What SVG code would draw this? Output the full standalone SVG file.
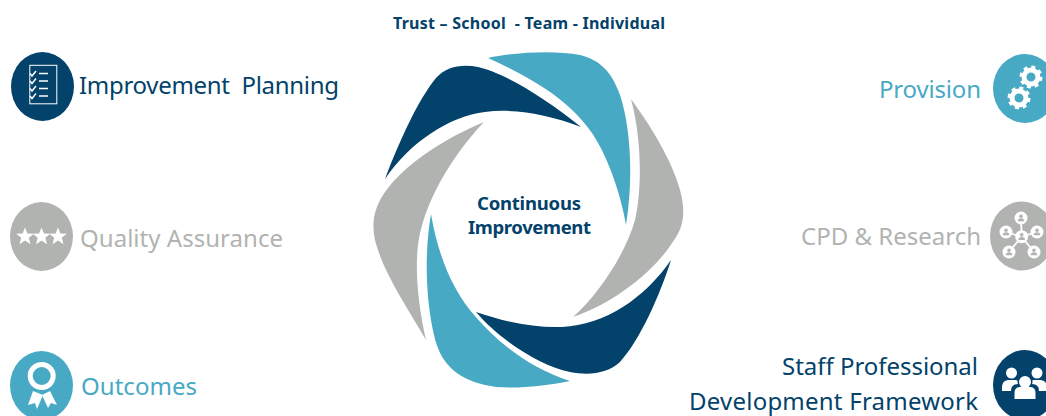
<svg xmlns="http://www.w3.org/2000/svg" width="1046" height="416" viewBox="0 0 1046 416">
<style>
text{font-family:"Noto Sans","Open Sans","Liberation Sans",sans-serif}
.l{font-size:24px}.t{font-weight:700;fill:#03426a}
.dark{fill:#03426a}.blue{fill:#48a9c5}.gray{fill:#b1b3b1}
.w{fill:#fff}.ws{fill:none;stroke:#fff}
</style>
<defs>
<polygon id="star" points="0,-9 2.400,-2.900 8.800,-2.700 3.800,1.300 5.500,7.700 0,4.100 -5.500,7.700 -3.800,1.300 -8.800,-2.700 -2.400,-2.900"/>
<path id="chk" d="M-6,0l2,2.500l4,-5M3,0h9" fill="none" stroke="#fff" stroke-width="1.500"/>
<g id="gear"><circle r="7" fill="none" stroke="#fff" stroke-width="5"/><circle r="9.800" fill="none" stroke="#fff" stroke-width="3.400" stroke-dasharray="3.850 3.850"/></g>
<g id="p"><circle r="6.500" fill="#fff"/><circle cy="-1.800" r="1.800" fill="#b1b3b1"/><path d="M-3.300,3.300q0,-3 3.300,-3q3.300,0 3.300,3z" fill="#b1b3b1"/></g>
</defs>
<text id="title" class="t" x="393" y="29" font-size="16" textLength="272" xml:space="preserve">Trust – School  - Team - Individual</text>
<g id="cycle">
<path class="blue" d="M488,58C515,52 555,50 580,55C600,60 612,72 620,95C630,125 634,175 626,225C622,200 610,160 592,133C570,102 540,82 488,58Z"/>
<path class="dark" d="M581,127C550,115 515,108 485,112C450,116 410,142 385,179C400,140 418,100 436,78C447,66 462,64 478,67C505,73 545,98 581,127Z"/>
<path class="gray" d="M631,99C650,125 672,160 680,190C686,212 684,228 672,243C655,270 615,303 573,317C598,295 625,255 635,220C642,190 642,140 631,99Z"/>
<path class="dark" d="M671,260C660,295 640,340 620,362C608,373 590,376 570,372C540,366 500,340 476,312C505,322 535,328 562,327C605,325 645,298 671,260Z"/>
<path class="blue" d="M431,214C438,255 452,290 475,316C498,343 530,368 570,381C540,387 505,390 485,385C455,378 440,362 434,335C426,300 424,255 431,214Z"/>
<path class="gray" d="M484,122C450,136 410,160 388,188C372,208 370,228 378,250C387,278 410,312 426,340C418,305 415,270 418,245C423,205 450,158 484,122Z"/>
</g>
<g id="center">
<text class="t" x="477" y="210" font-size="18.500" textLength="104">Continuous</text>
<text class="t" x="468" y="234" font-size="18.500" textLength="123">Improvement</text>
</g>
<g id="planning">
<ellipse class="dark" cx="42.500" cy="86.500" rx="31.500" ry="34.500"/>
<rect class="ws" x="29.800" y="65.300" width="27" height="38.500" stroke-width="1"/>
<use href="#chk" x="36" y="73.500"/><use href="#chk" x="36" y="81"/><use href="#chk" x="36" y="88.500"/><use href="#chk" x="36" y="96"/>
<text class="l" x="79" y="94" fill="#03426a" textLength="260" xml:space="preserve">Improvement  Planning</text>
</g>
<g id="quality">
<ellipse class="gray" cx="41.500" cy="236.500" rx="31.500" ry="34.500"/>
<use href="#star" class="w" x="25" y="236.500"/><use href="#star" class="w" x="41.500" y="236.500"/><use href="#star" class="w" x="58" y="236.500"/>
<text class="l" x="80" y="247" fill="#b1b3b1" textLength="203">Quality Assurance</text>
</g>
<g id="outcomes">
<ellipse class="blue" cx="41.500" cy="385.500" rx="31.500" ry="34.500"/>
<circle class="ws" cx="41.700" cy="376" r="11.500" stroke-width="5"/>
<polygon class="w" points="33,391 28,405 35,403 37,409 43,395"/>
<polygon class="w" points="42,395 48,408 51,403 57,405 50,391"/>
<text class="l" x="81" y="395" fill="#48a9c5" textLength="116">Outcomes</text>
</g>
<g id="provision">
<ellipse class="blue" cx="1025" cy="88.500" rx="32" ry="34.500"/>
<use href="#gear" x="1031" y="77"/>
<use href="#gear" x="1019" y="98"/>
<text class="l" x="879" y="98" fill="#48a9c5" textLength="102">Provision</text>
</g>
<g id="cpd">
<ellipse class="gray" cx="1022" cy="236" rx="32" ry="34.500"/>
<path class="ws" d="M1021.700,236.700L1021,218M1021.700,236.700L1006,232M1021.700,236.700L1037,232M1021.700,236.700L1009,252M1021.700,236.700L1034,252" stroke-width="1.800"/>
<use href="#p" x="1021.700" y="236.700"/><use href="#p" x="1021" y="218"/><use href="#p" x="1006" y="232"/><use href="#p" x="1037" y="232"/><use href="#p" x="1009" y="252"/><use href="#p" x="1034" y="252"/>
<text class="l" x="801" y="245" fill="#b1b3b1" textLength="180">CPD &amp; Research</text>
</g>
<g id="staff">
<ellipse class="dark" cx="1025" cy="385" rx="32" ry="35"/>
<circle class="w" cx="1011.500" cy="373" r="5.500"/><circle class="w" cx="1037" cy="373" r="5.500"/>
<path class="w" d="M1002,391v-4q0,-6 6,-7h7q6,1 6,4l-5,7z"/>
<path class="w" d="M1047,391v-4q0,-6 -6,-7h-7q-6,1 -6,4l5,7z"/>
<circle class="dark" cx="1025" cy="382" r="7.500"/>
<path class="dark" d="M1011,400v-9q0,-7 7,-7h14q7,0 7,7v9z"/>
<circle class="w" cx="1025" cy="382" r="6"/>
<path class="w" d="M1014.500,399v-6q0,-5.500 5,-6h11q5,.5 5,6v6z"/>
<text class="l" x="782" y="375" fill="#03426a" textLength="196">Staff Professional</text>
<text class="l" x="689" y="410" fill="#03426a" textLength="289">Development Framework</text>
</g>
</svg>
